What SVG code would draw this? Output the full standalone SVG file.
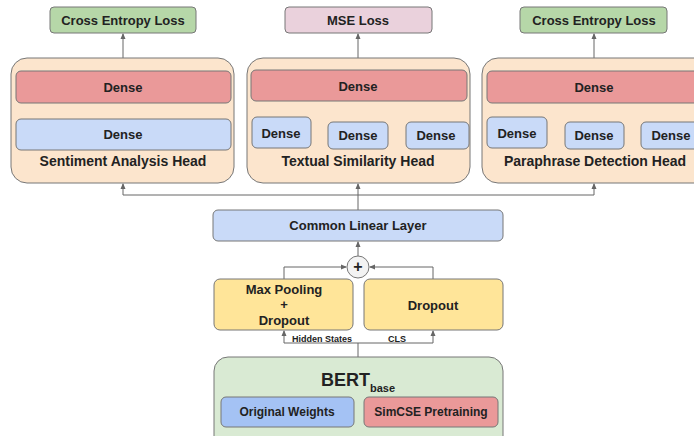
<svg xmlns="http://www.w3.org/2000/svg" width="694" height="436" viewBox="0 0 694 436">
<defs>
<marker id="ah" viewBox="0 0 6 6" refX="5" refY="3" markerWidth="6" markerHeight="6" orient="auto" markerUnits="userSpaceOnUse"><path d="M0,0.5 L6,3 L0,5.5 Z" fill="#666"/></marker>
<style>
text{font-family:"Liberation Sans",Arial,sans-serif;font-weight:bold;fill:#222;text-anchor:middle}
.box{stroke:#777;stroke-width:1}
.loss{fill:#b6d7a8}
.mse{fill:#ead1dc}
.head{fill:#fce5cd}
.red{fill:#ea9999}
.blue{fill:#c9daf8}
.yel{fill:#ffe599}
.ln{fill:none;stroke:#666;stroke-width:1}
.t13{font-size:13px}
.t12{font-size:12px}
.t14{font-size:14px}
</style>
</defs>
<rect width="694" height="436" fill="#fff"/>
<g id="connectors">
<path class="ln" d="M123,71 V34" marker-end="url(#ah)"/>
<path class="ln" d="M358,70 V34" marker-end="url(#ah)"/>
<path class="ln" d="M594,71 V34" marker-end="url(#ah)"/>
<path class="ln" d="M123,103 V119"/>
<path class="ln" d="M282,118 V108 H436 V122 M358,101 V108"/>
<path class="ln" d="M517,118 V108 H672 V122 M594,103 V108"/>
<path class="ln" d="M358,210 V195 M123,195 H594"/>
<path class="ln" d="M123,195 V184" marker-end="url(#ah)"/>
<path class="ln" d="M358,195 V184" marker-end="url(#ah)"/>
<path class="ln" d="M594,195 V184" marker-end="url(#ah)"/>
<path class="ln" d="M358,256 V242" marker-end="url(#ah)"/>
<path class="ln" d="M284,279 V267 H346" marker-end="url(#ah)"/>
<path class="ln" d="M433,279 V267 H370" marker-end="url(#ah)"/>
<path class="ln" d="M358,357 V343 M284,343 H433"/>
<path class="ln" d="M284,343 V331" marker-end="url(#ah)"/>
<path class="ln" d="M433,343 V331" marker-end="url(#ah)"/>
<text x="322" y="342" style="font-size:9px">Hidden States</text>
<text x="397" y="342" style="font-size:9px">CLS</text>
</g>
<g id="loss1"><rect class="box loss" x="50" y="7" width="146" height="26" rx="4"/><text class="t13" x="123" y="25">Cross Entropy Loss</text></g>
<g id="loss2"><rect class="box mse" x="285" y="7" width="147" height="26" rx="4"/><text class="t13" x="358" y="25">MSE Loss</text></g>
<g id="loss3"><rect class="box loss" x="520" y="7" width="147" height="26" rx="4"/><text class="t13" x="594" y="25">Cross Entropy Loss</text></g>
<g id="head1">
<rect class="box head" x="11" y="58" width="223" height="125" rx="16"/>
<rect class="box red" x="16" y="71" width="215" height="32" rx="5"/><text class="t13" x="123" y="92">Dense</text>
<rect class="box blue" x="16" y="119" width="215" height="31" rx="5"/><text class="t13" x="123" y="139">Dense</text>
<text class="t14" x="123" y="166">Sentiment Analysis Head</text>
</g>
<g id="head2">
<rect class="box head" x="247" y="58" width="223" height="125" rx="16"/>
<rect class="box red" x="251" y="70" width="216" height="31" rx="5"/><text class="t13" x="358" y="91">Dense</text>
<rect class="box blue" x="252" y="117" width="59" height="31" rx="5"/><text class="t13" x="281" y="138">Dense</text>
<rect class="box blue" x="328" y="122" width="60" height="27" rx="5"/><text class="t13" x="358" y="140">Dense</text>
<rect class="box blue" x="406" y="122" width="63" height="27" rx="5"/><text class="t13" x="436" y="140">Dense</text>
<text class="t14" x="358" y="166">Textual Similarity Head</text>
</g>
<g id="head3">
<rect class="box head" x="482" y="58" width="230" height="125" rx="16"/>
<rect class="box red" x="487" y="71" width="220" height="32" rx="5"/><text class="t13" x="594" y="92">Dense</text>
<rect class="box blue" x="487" y="117" width="60" height="31" rx="5"/><text class="t13" x="517" y="138">Dense</text>
<rect class="box blue" x="565" y="122" width="59" height="27" rx="5"/><text class="t13" x="594" y="140">Dense</text>
<rect class="box blue" x="641" y="122" width="60" height="27" rx="5"/><text class="t13" x="671" y="140">Dense</text>
<text class="t14" x="595" y="166">Paraphrase Detection Head</text>
</g>
<g id="common"><rect class="box blue" x="213" y="210" width="290" height="31" rx="5"/><text class="t13" x="358" y="230">Common Linear Layer</text></g>
<g id="plus"><circle cx="358" cy="267" r="11" fill="#f3f3f3" stroke="#777"/><text x="358" y="272" style="font-size:16px">+</text></g>
<g id="maxpool"><rect class="box yel" x="214" y="279" width="139" height="51" rx="6"/>
<text class="t13" x="284" y="294">Max Pooling</text><text class="t13" x="284" y="309">+</text><text class="t13" x="284" y="325">Dropout</text></g>
<g id="dropout"><rect class="box yel" x="364" y="279" width="139" height="51" rx="6"/><text class="t13" x="433" y="310">Dropout</text></g>
<g id="bert">
<rect class="box" fill="#d9ead3" x="214" y="357" width="289" height="100" rx="14"/>
<text x="358" y="386" style="font-size:18px">BERT<tspan dy="6" style="font-size:11px">base</tspan></text>
<rect class="box" fill="#a4c2f4" x="221" y="397" width="133" height="30" rx="5"/><text class="t12" x="287" y="416">Original Weights</text>
<rect class="box red" x="364" y="397" width="134" height="30" rx="5"/><text class="t12" x="431" y="416">SimCSE Pretraining</text>
</g>
</svg>
